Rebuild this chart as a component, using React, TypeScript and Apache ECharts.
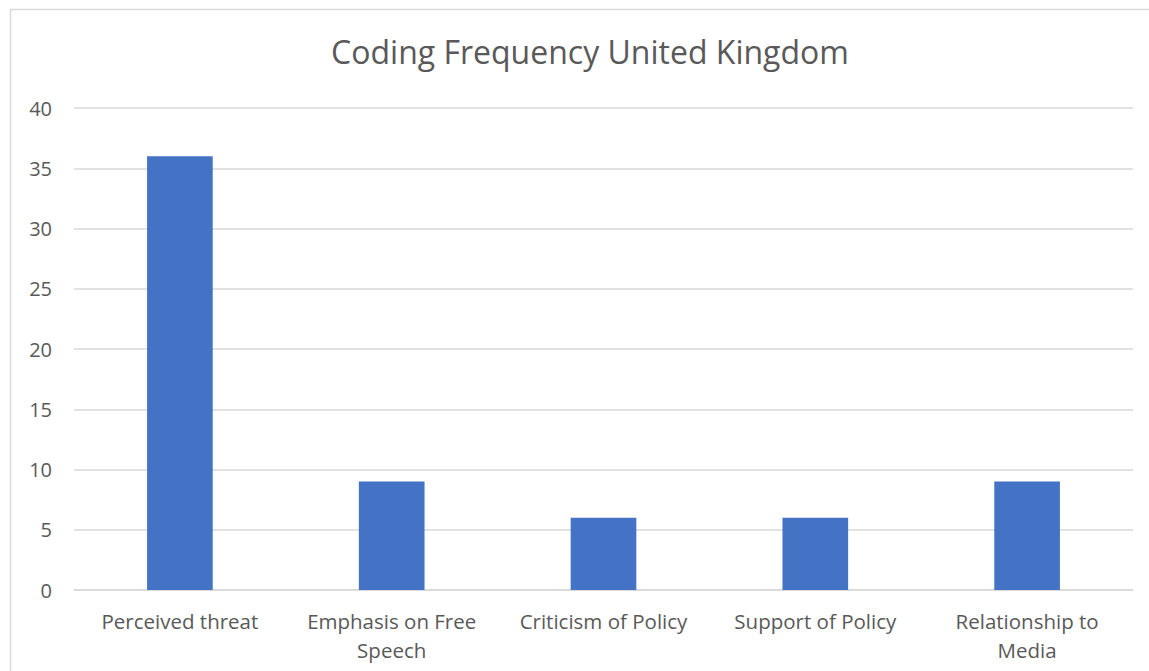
import React, { useEffect, useRef } from "react";
import * as echarts from "echarts";

const categories = [
  "Perceived threat",
  "Emphasis on Free\nSpeech",
  "Criticism of Policy",
  "Support of Policy",
  "Relationship to\nMedia",
];
const values = [36, 9, 6, 6, 9];
const titleText = "Coding Frequency United Kingdom";

export default function App() {
  const ref = useRef<HTMLDivElement>(null);
  useEffect(() => {
    const chart = echarts.init(ref.current!, undefined, { renderer: "svg" });
    const font = "'Open Sans', 'Noto Sans', sans-serif";
    chart.setOption({
      animation: false,
      backgroundColor: "#ffffff",
      title: {
        text: titleText,
        left: 585,
        textAlign: "center",
        top: 30,
        textStyle: { fontFamily: font, fontSize: 32, fontWeight: "normal", color: "#595959" },
      },
      graphic: [
        {
          type: "rect",
          shape: { x: 10.5, y: 9.5, width: 1200, height: 700 },
          style: { fill: "none", stroke: "#d9d9d9", lineWidth: 1.5 },
          silent: true,
        },
      ],
      grid: { left: 74, right: 16, top: 108, bottom: 81, containLabel: false },
      xAxis: {
        type: "category",
        data: categories,
        axisTick: { show: false },
        axisLine: { lineStyle: { color: "#d9d9d9", width: 1.5 } },
        axisLabel: {
          color: "#595959",
          fontFamily: font,
          fontSize: 20.5,
          lineHeight: 29,
          margin: 16,
          interval: 0,
        },
      },
      yAxis: {
        type: "value",
        min: 0,
        max: 40,
        interval: 5,
        axisLine: { show: false },
        axisTick: { show: false },
        splitLine: { lineStyle: { color: "#d9d9d9", width: 1.5 } },
        axisLabel: { color: "#595959", fontFamily: font, fontSize: 20, margin: 22 },
      },
      series: [
        {
          type: "bar",
          data: values,
          barWidth: "31%",
          itemStyle: { color: "#4472c4" },
        },
      ],
    });
    return () => chart.dispose();
  }, []);
  return (
    <div
      ref={ref}
      style={{ position: "fixed", left: 0, top: 0, width: 1149, height: 671 }}
    />
  );
}
